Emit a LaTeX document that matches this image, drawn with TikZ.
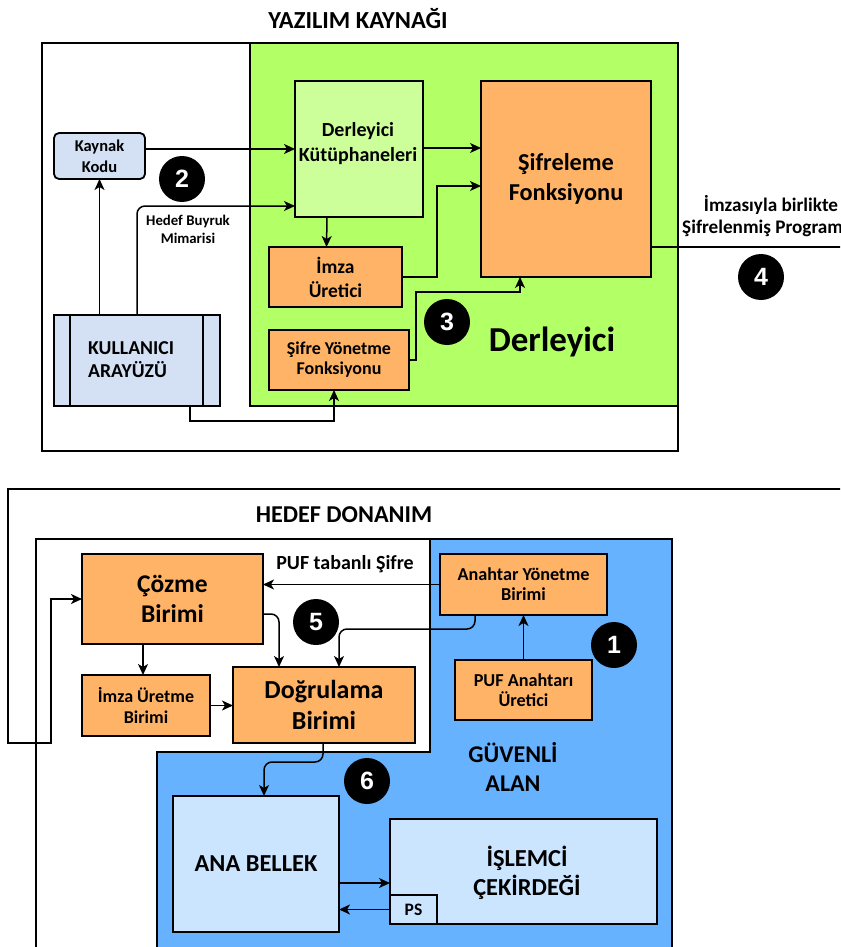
\documentclass[tikz,border=0pt]{standalone}
\usepackage{fontspec}
\setmainfont{Carlito}
\newfontfamily\numfont{Liberation Sans}
\usetikzlibrary{arrows.meta,calc}
\definecolor{cgreen}{HTML}{B3FF66}
\definecolor{clgreen}{HTML}{CCFF99}
\definecolor{corange}{HTML}{FFB366}
\definecolor{cpale}{HTML}{D4E1F5}
\definecolor{cblue}{HTML}{66B2FF}
\definecolor{clblue}{HTML}{CCE5FF}
\newcommand{\fsz}[2]{\fontsize{#1pt}{#2pt}\selectfont\bfseries}
\tikzset{
  box/.style={draw, line width=1.8pt, inner sep=0pt, outer sep=0pt, align=center},
  obox/.style={box, fill=corange},
  arr/.style={line width=1.5pt, -{Stealth[length=11pt,width=10pt,inset=3pt]}},
  conn/.style={line width=1.5pt},
  badge/.style={circle, fill=black, minimum size=46pt, inner sep=0pt, text=white, font=\numfont\fsz{25}{25}},
  txt/.style={inner sep=0pt, align=center}
}
\begin{document}
\begin{tikzpicture}[x=1pt,y=-1pt]
\path[use as bounding box, clip] (0,0) rectangle (840,947);
\fill[white] (0,0) rectangle (840,947);

% ---------------- top section ----------------
\node[txt, font=\fsz{24.5}{29}] (t1) at (358,19) {YAZILIM KAYNAĞI};
\draw[line width=1.5pt] (42,43) rectangle (678,451);
\draw[line width=1.5pt, fill=cgreen] (250,43) rectangle (678,406);

\node[box, fill=cpale, rounded corners=5pt, minimum width=91pt, minimum height=46pt, font=\fsz{16.5}{21}] (kod) at (99.5,156) {Kaynak\\Kodu};
\node[box, fill=cpale, minimum width=166pt, minimum height=91pt] (ui) at (137,360.5) {};
\draw[line width=1.8pt] ([xshift=16pt]ui.north west) -- ([xshift=16pt]ui.south west);
\draw[line width=1.8pt] ([xshift=-17pt]ui.north east) -- ([xshift=-17pt]ui.south east);
\node[txt, anchor=west, align=left, font=\fsz{19.7}{23}] (uitxt) at (88,360) {KULLANICI\\ARAYÜZÜ};

\node[box, fill=clgreen, minimum width=128pt, minimum height=136pt] (lib) at (359,149) {};
\node[txt, font=\fsz{20}{25}] (libtxt) at (358,143.5) {Derleyici\\Kütüphaneleri};
\node[obox, minimum width=170pt, minimum height=196pt, font=\fsz{24.3}{30}] (enc) at (566,179) {Şifreleme\\Fonksiyonu};
\node[obox, minimum width=133pt, minimum height=60pt, font=\fsz{19.5}{24}] (sig) at (335.5,277) {İmza\\Üretici};
\node[obox, minimum width=140pt, minimum height=60pt, font=\fsz{18}{20}] (key) at (339,360) {Şifre Yönetme\\Fonksiyonu};

\node[txt, font=\fsz{35}{40}] (derl) at (552,342) {Derleyici};

\coordinate (chb) at (137,206);
\coordinate (csig) at (437,186);
\coordinate (ck1) at (416,292);
\coordinate (cu1) at (190,421);
\coordinate (cu2) at (334,421);
\coordinate (out1) at (850,247);

\draw[arr] (ui.north -| kod.south) -- (kod.south);
\draw[arr] ([yshift=7pt]kod.east) -- ([yshift=7pt]kod.east -| lib.west);
\draw[arr, rounded corners=8pt] (ui.north) -- (chb) -- (chb -| lib.west);
\node[txt, font=\fsz{14.8}{18}] (hbm) at (188,229) {Hedef Buyruk\\Mimarisi};
\draw[arr] ([xshift=-32pt]lib.south) -- ([xshift=-9pt]sig.north);
\draw[arr] ([yshift=1pt]lib.east) -- ([yshift=1pt]lib.east -| enc.west);
\draw[arr] (sig.east) -| (csig) -- (csig -| enc.west);
\draw[arr] (key.east) -| (ck1) -| ([xshift=-46pt]enc.south);
\draw[arr] ([xshift=53pt]ui.south) -- (cu1) -- (cu2) -- ([xshift=-5pt]key.south);
\draw[conn] ([yshift=-68pt]enc.east) -- (out1);
\node[txt, font=\fsz{19.2}{23}] (outlbla) at (771,205) {İmzasıyla birlikte};
\node[txt, anchor=west, font=\fsz{19.2}{23}] (outlblb) at (682,228) {Şifrelenmiş Program};

\node[badge] (n2) at (182,179) {2};
\node[badge] (n3) at (447,322) {3};
\node[badge] (n4) at (761,277) {4};

% ---------------- bottom section ----------------
\fill[cblue] (157,539) rectangle (672,960);
\fill[white] (36,539) -- (430,539) -- (430,752) -- (157,752) -- (157,960) -- (36,960) -- cycle;
\draw[line width=1.5pt] (36,960) -- (36,539) -- (672,539) -- (672,960);
\draw[line width=1.5pt] (430,539) -- (430,752) -- (157,752) -- (157,960);

\node[txt, font=\fsz{24.2}{27}] (t2) at (344,515) {HEDEF DONANIM};
\node[txt, font=\fsz{24}{29}] (guv) at (513,767) {GÜVENLİ\\ALAN};

\node[obox, minimum width=181pt, minimum height=90pt, font=\fsz{25.5}{30}] (coz) at (172.5,599) {Çözme\\Birimi};
\node[obox, minimum width=128pt, minimum height=61pt, font=\fsz{18}{21}] (imu) at (146,705.5) {İmza Üretme\\Birimi};
\node[obox, minimum width=182pt, minimum height=76pt, font=\fsz{26}{31}] (dog) at (324,705) {Doğrulama\\Birimi};
\node[obox, minimum width=167pt, minimum height=61pt, font=\fsz{18.2}{20}] (anh) at (523.5,584.5) {Anahtar Yönetme\\Birimi};
\node[obox, minimum width=137pt, minimum height=60pt, font=\fsz{18.2}{20}] (puf) at (523.5,690) {PUF Anahtarı\\Üretici};
\node[box, fill=clblue, minimum width=166pt, minimum height=136pt, font=\fsz{24.4}{29}] (ana) at (256,864) {ANA BELLEK};
\node[box, fill=clblue, minimum width=267pt, minimum height=105pt] (isl) at (523.5,871.5) {};
\node[txt, font=\fsz{24.4}{29}] (isltxt) at (527,872.5) {İŞLEMCİ\\ÇEKİRDEĞİ};
\node[box, fill=clblue, minimum width=47pt, minimum height=29pt, font=\fsz{17.5}{20}] (ps) at (413.5,909.5) {PS};

\coordinate (in1) at (850,489);
\coordinate (w1) at (8,489);
\coordinate (w2) at (8,743);
\coordinate (w3) at (51,743);
\coordinate (w4) at (51,599);
\coordinate (ca1) at (475,629);
\coordinate (ca2) at (339,629);
\coordinate (cc1) at (279,614);
\coordinate (cd1) at (323,762);
\coordinate (cd2) at (264,762);

\draw[arr] (in1) -- (w1) -- (w2) -- (w3) -- (w4) -- (coz.west);
\draw[arr] (anh.west) -- (anh.west -| coz.east);
\node[txt, font=\fsz{20}{23}] (pufs) at (345,564) {PUF tabanlı Şifre};
\draw[arr] (puf.north) -- (anh.south);
\draw[arr, rounded corners=8pt] ([xshift=-48.5pt]anh.south) -- (ca1) -- (ca2) -- ([xshift=15pt]dog.north);
\draw[arr, rounded corners=8pt] ([yshift=-15pt]coz.east) -- (cc1) -- ([xshift=-45pt]dog.north);
\draw[arr] ([xshift=-29.5pt]coz.south) -- ([xshift=-3pt]imu.north);
\draw[arr] (imu.east) -- (imu.east -| dog.west);
\draw[arr, rounded corners=8pt] ([xshift=-1pt]dog.south) -- (cd1) -- (cd2) -- ([xshift=8pt]ana.north);
\draw[arr] ([yshift=-19pt]ana.east) -- ([yshift=-19pt]ana.east -| isl.west);
\draw[arr] (ps.west) -- (ps.west -| ana.east);

\node[badge] (n1) at (614,645) {1};
\node[badge] (n5) at (316,622) {5};
\node[badge] (n6) at (367,781) {6};
\end{tikzpicture}
\end{document}
